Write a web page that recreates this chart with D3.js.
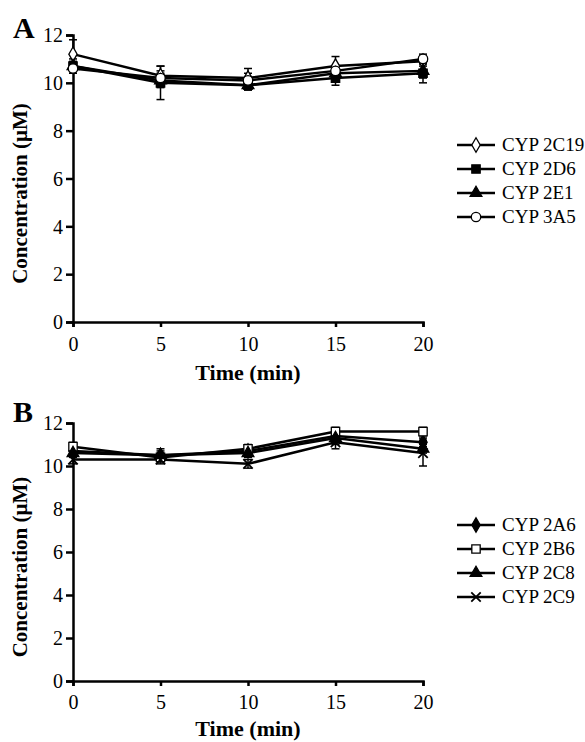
<!DOCTYPE html>
<html>
<head>
<meta charset="utf-8">
<script src="https://cdn.jsdelivr.net/npm/d3@7"></script>
<style>
  body { margin: 0; background: #fff; }
  svg text { font-family: "Liberation Serif", "Times New Roman", Tinos, "DejaVu Serif", serif !important; }
</style>
</head>
<body>
<svg width="585" height="742"></svg>
<script>
const times = [0, 5, 10, 15, 20];
const yTicks = [0, 2, 4, 6, 8, 10, 12];

// Panel A
const namesA = ["CYP 2C19", "CYP 2D6", "CYP 2E1", "CYP 3A5"];
const cyp2C19 = [11.2, 10.3, 10.2, 10.7, 10.9];
const cyp2D6 = [10.7, 10.0, 9.9, 10.2, 10.4];
const cyp2E1 = [10.7, 10.1, 9.9, 10.4, 10.5];
const cyp3A5 = [10.6, 10.2, 10.1, 10.5, 11.0];
const err2C19 = [0.6, 0.4, 0.4, 0.4, 0.2];
const err2D6 = [0.3, 0.7, 0.2, 0.3, 0.4];
const err2E1 = [0.2, 0.3, 0.2, 0.2, 0.3];
const err3A5 = [0.2, 0.3, 0.3, 0.2, 0.2];

// Panel B
const namesB = ["CYP 2A6", "CYP 2B6", "CYP 2C8", "CYP 2C9"];
const cyp2A6 = [10.7, 10.5, 10.7, 11.4, 11.1];
const cyp2B6 = [10.9, 10.4, 10.8, 11.6, 11.6];
const cyp2C8 = [10.6, 10.5, 10.6, 11.3, 10.8];
const cyp2C9 = [10.3, 10.3, 10.1, 11.1, 10.6];
const err2A6 = [0.2, 0.3, 0.2, 0.2, 0.2];
const err2B6 = [0.2, 0.2, 0.2, 0.2, 0.2];
const err2C8 = [0.2, 0.2, 0.2, 0.3, 0.2];
const err2C9 = [0.2, 0.2, 0.2, 0.3, 0.6];

const svg = d3.select("svg");

// marker styles: symbol type, filled or open
const markers = {
    "CYP 2C19": { type: d3.symbolDiamond, size: 60, fill: "#fff" },
    "CYP 2D6":  { type: d3.symbolSquare, size: 70, fill: "#000" },
    "CYP 2E1":  { type: d3.symbolTriangle, size: 60, fill: "#000" },
    "CYP 3A5":  { type: d3.symbolCircle, size: 70, fill: "#fff" },
    "CYP 2A6":  { type: d3.symbolDiamond, size: 60, fill: "#000" },
    "CYP 2B6":  { type: d3.symbolSquare, size: 70, fill: "#fff" },
    "CYP 2C8":  { type: d3.symbolTriangle, size: 60, fill: "#000" },
    "CYP 2C9":  { type: d3.symbolTimes, size: 60, fill: "none" }
};

function drawPanel(p) {
    const x = d3.scaleLinear().domain([0, 20]).range([73, 423]);
    const y = d3.scaleLinear().domain([0, 12]).range([p.bottom, p.top]);
    const g = svg.append("g");

    // axes
    g.append("g")
        .attr("transform", `translate(0,${p.bottom})`)
        .call(d3.axisBottom(x).tickValues(times).tickSize(5).tickPadding(p.tickPad))
        .call(a => a.selectAll("text").style("font-size", "20px"));
    g.append("g")
        .attr("transform", "translate(73,0)")
        .call(d3.axisLeft(y).tickValues(yTicks).tickSize(7).tickPadding(3))
        .call(a => a.selectAll("text").style("font-size", "20px").attr("dy", "0.34em"));
    g.selectAll(".domain").attr("stroke-width", 2.5);
    g.selectAll(".tick line").attr("stroke-width", 2.5);

    // axis titles
    g.append("text")
        .attr("x", 248).attr("y", p.bottom + p.titleOff)
        .attr("text-anchor", "middle")
        .style("font-size", "22px").style("font-weight", "bold")
        .text("Time (min)");
    g.append("text")
        .attr("transform", `translate(27,${(p.top + p.bottom) / 2 + 15}) rotate(-90)`)
        .attr("text-anchor", "middle")
        .style("font-size", "21px").style("font-weight", "bold")
        .text("Concentration (\u00b5M)");
    g.append("text")
        .attr("x", 13).attr("y", p.labelY)
        .style("font-size", "30px").style("font-weight", "bold")
        .text(p.label);

    const line = d3.line().x((d, i) => x(times[i])).y(d => y(d));

    p.series.forEach(s => {
        // error bars
        const eb = g.append("g");
        s.values.forEach((v, i) => {
            const e = s.err[i];
            eb.append("line")
                .attr("x1", x(times[i])).attr("x2", x(times[i]))
                .attr("y1", y(v - e)).attr("y2", y(v + e))
                .attr("stroke", "#000").attr("stroke-width", 1.5);
            [v - e, v + e].forEach(c => eb.append("line")
                .attr("x1", x(times[i]) - 4).attr("x2", x(times[i]) + 4)
                .attr("y1", y(c)).attr("y2", y(c))
                .attr("stroke", "#000").attr("stroke-width", 1.5));
        });
        g.append("path")
            .attr("d", line(s.values))
            .attr("fill", "none")
            .attr("stroke", "#000")
            .attr("stroke-width", 2.5);
    });

    p.series.forEach(s => {
        const m = markers[s.name];
        g.selectAll(null)
            .data(s.values)
            .enter().append("path")
            .attr("transform", (d, i) => `translate(${x(times[i])},${y(d)})`)
            .attr("d", d3.symbol().type(m.type).size(m.size))
            .attr("fill", m.fill)
            .attr("stroke", "#000")
            .attr("stroke-width", m.fill === "none" ? 1.8 : 1.3);
    });

    // legend
    const leg = g.append("g");
    p.series.forEach((s, i) => {
        const ly = p.legendY + i * 24;
        const m = markers[s.name];
        leg.append("line")
            .attr("x1", 457).attr("x2", 495)
            .attr("y1", ly).attr("y2", ly)
            .attr("stroke", "#000").attr("stroke-width", 2.5);
        leg.append("path")
            .attr("transform", `translate(476,${ly})`)
            .attr("d", d3.symbol().type(m.type).size(m.size))
            .attr("fill", m.fill)
            .attr("stroke", "#000")
            .attr("stroke-width", m.fill === "none" ? 1.8 : 1.3);
        leg.append("text")
            .attr("x", 502).attr("y", ly + 6)
            .style("font-size", "19px")
            .text(s.name);
    });
}

drawPanel({
    top: 35, bottom: 322, label: "A", labelY: 38, legendY: 145, tickPad: 10, titleOff: 58,
    series: [
        { name: namesA[0], values: cyp2C19, err: err2C19 },
        { name: namesA[1], values: cyp2D6, err: err2D6 },
        { name: namesA[2], values: cyp2E1, err: err2E1 },
        { name: namesA[3], values: cyp3A5, err: err3A5 }
    ]
});

drawPanel({
    top: 423, bottom: 681, label: "B", labelY: 422, legendY: 525, tickPad: 9, titleOff: 55,
    series: [
        { name: namesB[0], values: cyp2A6, err: err2A6 },
        { name: namesB[1], values: cyp2B6, err: err2B6 },
        { name: namesB[2], values: cyp2C8, err: err2C8 },
        { name: namesB[3], values: cyp2C9, err: err2C9 }
    ]
});
</script>
</body>
</html>
